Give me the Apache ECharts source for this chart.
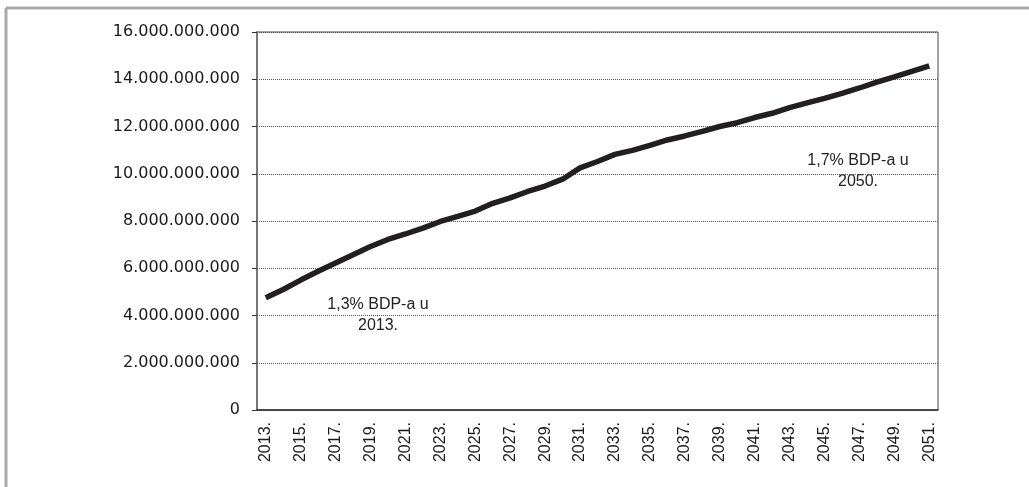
<!DOCTYPE html>
<html>
<head>
<meta charset="utf-8">
<script src="https://cdn.jsdelivr.net/npm/echarts@6/dist/echarts.min.js"></script>
<style>
  html, body { margin: 0; padding: 0; background: #fff; }
  #chart { width: 1029px; height: 487px; }
</style>
</head>
<body>
<div id="chart"></div>
<script>
const years = []
for (let y = 2013; y <= 2051; y++) years.push(y + '.')

// rashodi po godinama (procjena s grafa)
const values = [
  4.75e9, 5.1e9, 5.5e9, 5.87e9, 6.22e9, 6.57e9, 6.92e9, 7.22e9, 7.45e9, 7.7e9,
  7.98e9, 8.2e9, 8.42e9, 8.75e9, 8.98e9, 9.25e9, 9.48e9, 9.77e9, 10.25e9, 10.52e9,
  10.82e9, 10.99e9, 11.2e9, 11.43e9, 11.6e9, 11.79e9, 12.0e9, 12.16e9, 12.38e9, 12.56e9,
  12.8e9, 13.0e9, 13.19e9, 13.4e9, 13.63e9, 13.88e9, 14.1e9, 14.33e9, 14.57e9
]

const notes = [['1,3% BDP-a u', '2013.'], ['1,7% BDP-a u', '2050.']]

const fmt = v => String(v).replace(/\B(?=(\d{3})+(?!\d))/g, '.')

// tekst bilješke, svaki red posebno centriran
const note = (lines, cx, top) => lines.map((t, i) => ({
  type: 'text', x: cx, y: top + i * 21,
  style: {
    text: t, fill: '#222', font: '16px "Liberation Sans"',
    textAlign: 'center', align: 'center', textVerticalAlign: 'top', verticalAlign: 'top'
  }
}))

const chart = echarts.init(document.getElementById('chart'))
chart.setOption({
  animation: false,
  grid: {
    left: 257, right: 91, top: 32, bottom: 77,
    show: true, borderColor: '#444', borderWidth: 1
  },
  xAxis: {
    type: 'category',
    data: years,
    boundaryGap: true,
    axisLine: { lineStyle: { color: '#333', width: 1.5 } },
    axisTick: { interval: 0, length: 5, lineStyle: { color: '#333' } },
    axisLabel: {
      interval: 1, rotate: 90, margin: 12,
      color: '#1a1a1a', fontSize: 16, fontFamily: 'Liberation Sans'
    },
    splitLine: { show: false }
  },
  yAxis: {
    type: 'value',
    min: 0, max: 16e9, interval: 2e9,
    axisLine: { show: true, lineStyle: { color: '#777', width: 2 } },
    axisTick: { show: true, length: 5, lineStyle: { color: '#333' } },
    axisLabel: {
      margin: 17, color: '#1a1a1a', fontSize: 16, fontFamily: 'DejaVu Sans',
      formatter: fmt
    },
    splitLine: { lineStyle: { color: '#555', type: [1, 1], width: 1 } }
  },
  series: [{
    type: 'line',
    data: values,
    showSymbol: false,
    lineStyle: { color: '#231f20', width: 5.5 }
  }],
  graphic: [
    { type: 'line', shape: { x1: 6, y1: 8, x2: 1029, y2: 8 }, style: { stroke: '#aaa', lineWidth: 3 } },
    { type: 'line', shape: { x1: 6, y1: 8, x2: 6, y2: 487 }, style: { stroke: '#aaa', lineWidth: 3 } },
    ...note(notes[0], 378, 297),
    ...note(notes[1], 858, 153)
  ]
})
</script>
</body>
</html>
